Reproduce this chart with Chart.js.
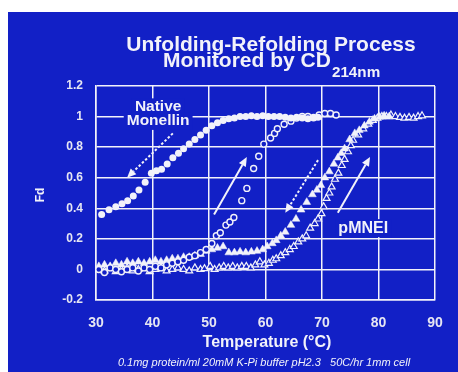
<!DOCTYPE html>
<html>
<head>
<meta charset="utf-8">
<script src="https://cdn.jsdelivr.net/npm/chart.js@4.4.4/dist/chart.umd.min.js"></script>
<style>
  html, body { margin: 0; padding: 0; background: #fff; }
  #wrap { width: 458px; height: 372px; }
</style>
</head>
<body>
<div id="wrap"><canvas id="cd" width="458" height="372"></canvas></div>
<script>
// Fd vs temperature
const xTicks = [30, 40, 50, 60, 70, 80, 90];
const yTickLabels = ['-0.2', '0', '0.2', '0.4', '0.6', '0.8', '1', '1.2'];

// native monellin (filled circles)
const monellinX = [31, 32.3, 33.5, 34.6, 35.6, 36.6, 37.6, 38.7, 39.8, 40.7, 41.6, 42.6, 43.6, 44.6, 45.5, 46.5, 47.5, 48.5, 49.5, 50.5, 51.5, 52.5, 53.5, 54.5, 55.5, 56.5, 57.5, 58.5, 59.5, 60.5, 61.5, 62.5, 63.5, 64.5, 65.5, 66.5, 67.5, 68.5, 69.3];
const monellinY = [0.36, 0.39, 0.41, 0.43, 0.45, 0.48, 0.52, 0.57, 0.63, 0.645, 0.655, 0.69, 0.73, 0.76, 0.79, 0.82, 0.85, 0.88, 0.91, 0.94, 0.96, 0.975, 0.985, 0.99, 1.0, 1.0, 1.005, 1.0, 1.005, 1.0, 1.0, 1.0, 0.995, 0.99, 0.995, 0.99, 0.985, 0.99, 0.995];

// monellin, reverse direction (open circles)
const openCircX = [30.5, 31.5, 32.5, 33.5, 34.5, 35.5, 36.5, 37.5, 38.5, 39.5, 40.5, 41.5, 42.5, 43.5, 44.5, 45.5, 46.5, 47.5, 48.5, 49.5, 50.5, 51.3, 52.0, 53.0, 53.7, 54.4, 55.8, 56.7, 57.9, 58.8, 59.7, 60.9, 61.6, 62.1, 63.3, 64.5, 65.5, 66.5, 67.5, 68.5, 69.5, 70.5, 71.5, 72.5];
const openCircY = [0.0, -0.02, 0.01, 0.0, -0.015, 0.0, 0.01, -0.01, 0.01, 0.0, 0.02, 0.01, 0.03, 0.04, 0.05, 0.06, 0.08, 0.09, 0.11, 0.13, 0.17, 0.22, 0.24, 0.29, 0.31, 0.34, 0.45, 0.53, 0.66, 0.74, 0.82, 0.86, 0.89, 0.92, 0.95, 0.97, 0.99, 1.0, 1.0, 0.995, 1.01, 1.02, 1.02, 1.01];

// pMNEI refolding (filled triangles)
const pmneiDownX = [30.5, 31.5, 32.5, 33.5, 34.5, 35.5, 36.5, 37.5, 38.5, 39.5, 40.5, 41.5, 42.5, 43.5, 44.5, 45.5, 46.5, 47.5, 48.5, 49.5, 50.5, 51.5, 52.5, 53.5, 54.5, 55.5, 56.5, 57.5, 58.5, 59.5, 60.3, 61.2, 61.9, 62.7, 63.5, 64.5, 65.4, 66.3, 67.3, 68.3, 69.1, 69.8, 70.5, 71.3, 72.1, 72.8, 73.4, 74.0, 74.9, 75.8, 76.6, 77.5, 78.4, 79.3, 80.2, 81.0, 81.9];
const pmneiDownY = [0.02, 0.03, 0.02, 0.04, 0.03, 0.05, 0.04, 0.05, 0.04, 0.05, 0.06, 0.05, 0.06, 0.07, 0.07, 0.08, 0.08, 0.09, 0.10, 0.12, 0.13, 0.14, 0.15, 0.11, 0.11, 0.115, 0.11, 0.115, 0.12, 0.13, 0.15, 0.17, 0.19, 0.22, 0.245, 0.29, 0.33, 0.39, 0.44, 0.49, 0.52, 0.55, 0.6, 0.64, 0.69, 0.73, 0.76, 0.79, 0.85, 0.89, 0.91, 0.94, 0.965, 0.985, 0.998, 1.005, 1.0];

// pMNEI unfolding (open triangles)
const pmneiUpX = [30.5, 31.5, 32.5, 33.5, 34.5, 35.5, 36.5, 37.5, 38.5, 39.5, 40.5, 41.5, 42.5, 43.5, 44.5, 45.5, 46.5, 47.5, 48.5, 49.2, 50.2, 51.0, 51.8, 52.6, 53.4, 54.2, 55.0, 55.8, 56.6, 57.4, 58.2, 59.0, 59.8, 60.6, 61.3, 61.9, 62.7, 63.5, 64.3, 65.0, 65.8, 66.5, 67.2, 67.9, 68.7, 69.3, 69.9, 70.3, 70.8, 71.3, 71.7, 72.3, 72.9, 73.5, 74.0, 74.6, 75.1, 75.5, 76.4, 77.3, 78.2, 79.0, 79.8, 80.6, 81.4, 82.2, 83.0, 83.8, 84.6, 85.4, 86.2, 87.0, 87.7];
const pmneiUpY = [0.0, -0.01, 0.01, -0.015, 0.0, 0.01, -0.01, 0.0, 0.01, -0.015, 0.0, 0.01, -0.01, 0.0, 0.01, 0.0, -0.01, 0.01, 0.0, 0.005, 0.02, 0.0, 0.01, 0.02, 0.01, 0.02, 0.01, 0.02, 0.02, 0.01, 0.03, 0.05, 0.03, 0.04, 0.06, 0.07, 0.09, 0.11, 0.13, 0.15, 0.18, 0.2, 0.22, 0.27, 0.3, 0.33, 0.365, 0.41, 0.465, 0.5, 0.54, 0.59, 0.63, 0.68, 0.72, 0.77, 0.81, 0.845, 0.88, 0.92, 0.95, 0.975, 0.99, 1.0, 1.0, 1.01, 1.0, 0.995, 0.99, 0.995, 0.99, 1.0, 1.005];

const BLUE = '#1220c6';
const INK = '#f2f2fa';
const FONT = '"Liberation Sans", Arial, sans-serif';

// labels and arrows in data units
const notes = [
  { text: 'Native', x: 41.0, y: 1.062, size: 15.5 },
  { text: 'Monellin', x: 41.0, y: 0.97, size: 15.5 },
  { text: 'pMNEI', x: 77.3, y: 0.27, size: 16 }
];
const arrows = [
  { from: [43.6, 0.89], to: [35.5, 0.60], dashed: true },
  { from: [50.9, 0.36], to: [56.7, 0.735], dashed: false },
  { from: [69.3, 0.715], to: [63.5, 0.37], dashed: true },
  { from: [72.8, 0.37], to: [78.5, 0.735], dashed: false }
];

const pts = (xs, ys) => xs.map((x, i) => ({ x, y: ys[i] }));

const slidePlugin = {
  id: 'slide',
  beforeDraw(chart) {
    const c = chart.ctx;
    c.save();
    c.fillStyle = '#fff';
    c.fillRect(0, 0, chart.width, chart.height);
    c.fillStyle = BLUE;
    c.fillRect(8, 12, chart.width - 8, chart.height - 12);
    c.restore();
  },
  beforeDatasetsDraw(chart) {
    const c = chart.ctx, xs = chart.scales.x, ys = chart.scales.y;
    c.save();
    c.textAlign = 'center';
    c.textBaseline = 'middle';
    notes.forEach(n => {
      c.font = 'bold ' + n.size + 'px ' + FONT;
      const px = xs.getPixelForValue(n.x), py = ys.getPixelForValue(n.y);
      const w = c.measureText(n.text).width;
      c.fillStyle = BLUE;
      c.fillRect(px - w / 2 - 3, py - n.size / 2 - 1, w + 6, n.size + 2);
      c.fillStyle = INK;
      c.fillText(n.text, px, py);
    });
    c.strokeStyle = INK;
    c.fillStyle = INK;
    c.lineWidth = 2;
    arrows.forEach(a => {
      const x1 = xs.getPixelForValue(a.from[0]), y1 = ys.getPixelForValue(a.from[1]);
      const x2 = xs.getPixelForValue(a.to[0]), y2 = ys.getPixelForValue(a.to[1]);
      const ang = Math.atan2(y2 - y1, x2 - x1);
      const hl = 9, hw = 4;
      const bx = x2 - hl * Math.cos(ang), by = y2 - hl * Math.sin(ang);
      c.setLineDash(a.dashed ? [2.5, 2] : []);
      c.beginPath();
      c.moveTo(x1, y1);
      c.lineTo(bx, by);
      c.stroke();
      c.setLineDash([]);
      c.beginPath();
      c.moveTo(x2, y2);
      c.lineTo(bx + hw * Math.sin(ang), by - hw * Math.cos(ang));
      c.lineTo(bx - hw * Math.sin(ang), by + hw * Math.cos(ang));
      c.closePath();
      c.fill();
    });
    c.restore();
  },
  afterDraw(chart) {
    const c = chart.ctx;
    c.save();
    c.fillStyle = INK;
    c.textBaseline = 'alphabetic';
    // title: slide font is a bit wider than Liberation, so stretch it slightly
    c.save();
    c.translate(271, 0);
    c.scale(1.05, 1);
    c.textAlign = 'center';
    c.font = 'bold 20px ' + FONT;
    c.fillText('Unfolding-Refolding Process', 0, 51);
    const main = 'Monitored by CD', sub = '214nm';
    const wMain = c.measureText(main).width;
    c.font = 'bold 14.5px ' + FONT;
    const wSub = c.measureText(sub).width;
    const x0 = -(wMain + wSub) / 2;
    c.textAlign = 'left';
    c.font = 'bold 20px ' + FONT;
    c.fillText(main, x0, 67);
    c.font = 'bold 14.5px ' + FONT;
    c.fillText(sub, x0 + wMain + 1, 77);
    c.restore();
    // axis titles + footnote
    c.textAlign = 'center';
    c.font = 'bold 16px ' + FONT;
    c.fillText('Temperature (\u00B0C)', 267, 347);
    c.font = 'italic 11px ' + FONT;
    c.fillText('0.1mg protein/ml 20mM K-Pi buffer pH2.3   50C/hr 1mm cell', 264, 366);
    c.translate(44, 195);
    c.rotate(-Math.PI / 2);
    c.font = 'bold 12px ' + FONT;
    c.fillText('Fd', 0, 0);
    c.restore();
  }
};

new Chart(document.getElementById('cd'), {
  type: 'scatter',
  data: {
    datasets: [
      { label: 'Native Monellin', data: pts(monellinX, monellinY), pointStyle: 'circle', pointRadius: 3.5, backgroundColor: INK, borderColor: INK, borderWidth: 0 },
      { label: 'Monellin (open)', data: pts(openCircX, openCircY), pointStyle: 'circle', pointRadius: 3, backgroundColor: BLUE, borderColor: INK, borderWidth: 1.4 },
      { label: 'pMNEI (filled)', data: pts(pmneiDownX, pmneiDownY), pointStyle: 'triangle', pointRadius: 4.5, backgroundColor: INK, borderColor: INK, borderWidth: 0.5 },
      { label: 'pMNEI (open)', data: pts(pmneiUpX, pmneiUpY), pointStyle: 'triangle', pointRadius: 4, backgroundColor: BLUE, borderColor: INK, borderWidth: 1.2 }
    ]
  },
  options: {
    responsive: false,
    animation: false,
    events: [],
    layout: { padding: { left: 0, top: 86, right: 23, bottom: 0 } },
    plugins: { legend: { display: false }, tooltip: { enabled: false }, title: { display: false } },
    scales: {
      x: {
        type: 'linear', min: 30, max: 90,
        afterFit(s) { s.height = 72; },
        afterBuildTicks(s) { s.ticks = xTicks.map(v => ({ value: v })); },
        grid: { color: INK, lineWidth: 1.5, drawTicks: false },
        border: { color: INK, width: 1.5 },
        ticks: { color: '#e6e6f2', padding: 15, font: { family: 'Liberation Sans', weight: 'bold', size: 14 } }
      },
      y: {
        type: 'linear', min: -0.2, max: 1.2,
        afterFit(s) { s.width = 96; },
        afterBuildTicks(s) { s.ticks = yTickLabels.map(t => ({ value: parseFloat(t) })); },
        grid: { color: INK, lineWidth: 1.5, drawTicks: false },
        border: { color: INK, width: 1.5 },
        ticks: {
          color: '#e6e6f2', padding: 13,
          font: { family: 'Liberation Sans', weight: 'bold', size: 12 },
          callback: (v, i) => yTickLabels[i]
        }
      }
    }
  },
  plugins: [slidePlugin]
});
</script>
</body>
</html>
